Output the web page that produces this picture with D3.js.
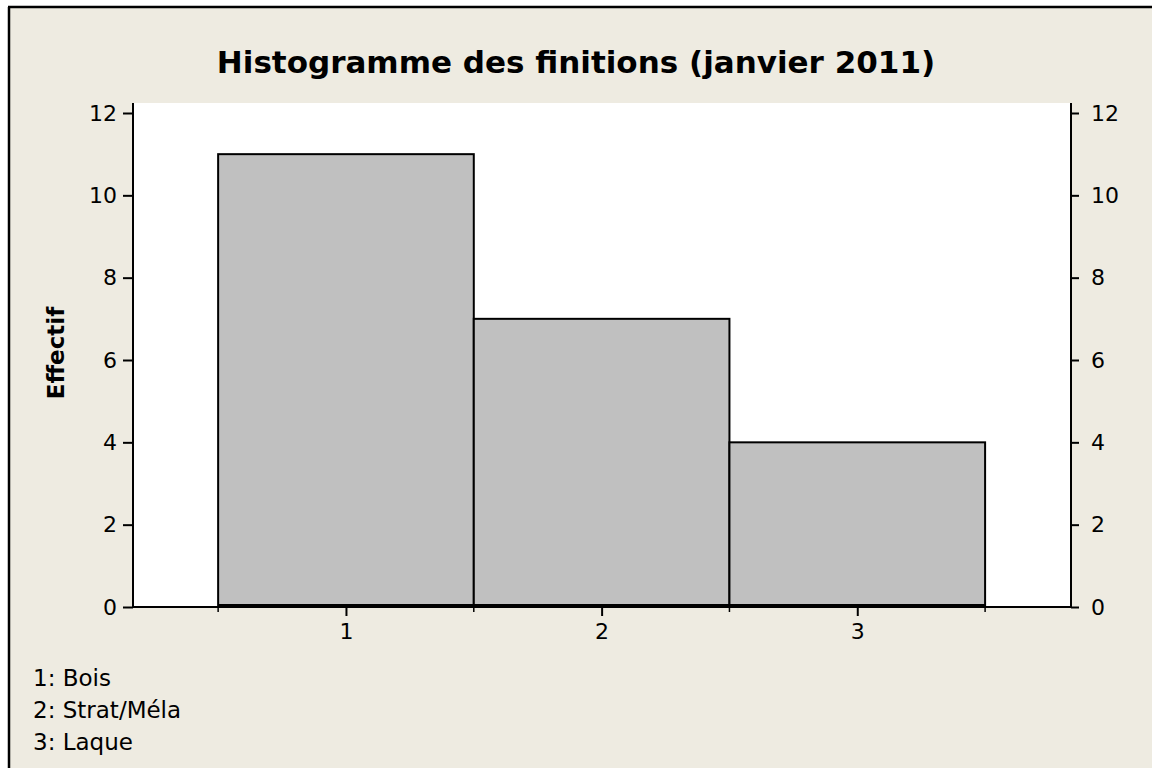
<!DOCTYPE html>
<html>
<head>
<meta charset="utf-8">
<script src="https://cdn.jsdelivr.net/npm/d3@7"></script>
<style>
  html, body { margin: 0; padding: 0; overflow: hidden; background: #fff; }
  svg { display: block; }
  svg text { font-family: "DejaVu Sans", Verdana, sans-serif; fill: #000; }
</style>
</head>
<body>
<svg id="chart" width="1152" height="768"></svg>
<script>
// données
var codes = [1, 2, 3];
var finitions = ["Bois", "Strat/Méla", "Laque"];
var effectifs = [11, 7, 4];
var yTicks = [0, 2, 4, 6, 8, 10, 12];
var titre = "Histogramme des finitions (janvier 2011)";
var yTitre = "Effectif";

var W = 1152, H = 768;
// zone du graphique
var plot = {left: 133, right: 1071, top: 103, bottom: 607};

var svg = d3.select("#chart");

// fond beige + cadre (le cadre sort de l'image à droite et en bas)
svg.append("rect")
    .attr("width", W).attr("height", H)
    .attr("fill", "#eeebe1");
svg.append("rect")
    .attr("width", W).attr("height", 6)
    .attr("fill", "#fff");
svg.append("rect")
    .attr("width", 8).attr("height", H)
    .attr("fill", "#fff");
svg.append("line")
    .attr("x1", 9).attr("x2", 9).attr("y1", 7).attr("y2", H)
    .attr("stroke", "#000").attr("stroke-width", 2.5);
svg.append("line")
    .attr("x1", 8).attr("x2", W).attr("y1", 7).attr("y2", 7)
    .attr("stroke", "#000").attr("stroke-width", 2.5);

// échelles
var x = d3.scaleLinear()
    .domain([0.5 - 0.333, 3.5 + 0.336])
    .range([plot.left, plot.right]);
var y = d3.scaleLinear()
    .domain([0, 12])
    .range([plot.bottom, 113]);

// zone blanche
svg.append("rect")
    .attr("x", plot.left).attr("y", plot.top)
    .attr("width", plot.right - plot.left)
    .attr("height", plot.bottom - plot.top)
    .attr("fill", "#fff");

// barres
svg.selectAll("rect.bar")
    .data(effectifs)
  .enter().append("rect")
    .attr("class", "bar")
    .attr("x", function(d, i) { return x(codes[i] - 0.5); })
    .attr("y", function(d) { return y(d); })
    .attr("width", function(d, i) { return x(codes[i] + 0.5) - x(codes[i] - 0.5); })
    .attr("height", function(d) { return y(0) - 2 - y(d); })
    .attr("fill", "#c0c0c0")
    .attr("stroke", "#000")
    .attr("stroke-width", 2);

// axe gauche
var yAxisL = svg.append("g")
    .attr("transform", "translate(" + plot.left + ",0)")
    .call(d3.axisLeft(y).tickValues(yTicks).tickSize(10).tickPadding(6));
// axe droit
var yAxisR = svg.append("g")
    .attr("transform", "translate(" + plot.right + ",0)")
    .call(d3.axisRight(y).tickValues(yTicks).tickSize(8).tickPadding(12));

[yAxisL, yAxisR].forEach(function(a) {
    a.select(".domain").remove();
    a.selectAll(".tick line").attr("stroke", "#000").attr("stroke-width", 2);
    a.selectAll(".tick text")
        .attr("font-size", 22)
        .attr("font-family", "DejaVu Sans")
        .attr("fill", "#000");
});

// lignes verticales des axes
svg.append("line")
    .attr("x1", plot.left).attr("x2", plot.left)
    .attr("y1", plot.top).attr("y2", plot.bottom)
    .attr("stroke", "#000").attr("stroke-width", 2);
svg.append("line")
    .attr("x1", plot.right).attr("x2", plot.right)
    .attr("y1", plot.top).attr("y2", plot.bottom)
    .attr("stroke", "#000").attr("stroke-width", 2);

// axe x
var xAxis = svg.append("g")
    .attr("transform", "translate(0," + plot.bottom + ")")
    .call(d3.axisBottom(x).tickValues(codes).tickSize(9).tickPadding(7).tickFormat(d3.format("d")));
xAxis.select(".domain").remove();
xAxis.selectAll(".tick line").attr("stroke", "#000").attr("stroke-width", 2);
xAxis.selectAll(".tick text")
    .attr("font-size", 22)
    .attr("font-family", "DejaVu Sans")
    .attr("fill", "#000");

// petits traits aux bords des classes
svg.selectAll("line.minor")
    .data(codes.map(function(c) { return c - 0.5; }).concat([codes[codes.length - 1] + 0.5]))
  .enter().append("line")
    .attr("class", "minor")
    .attr("x1", function(d) { return x(d); })
    .attr("x2", function(d) { return x(d); })
    .attr("y1", plot.bottom)
    .attr("y2", plot.bottom + 5)
    .attr("stroke", "#000").attr("stroke-width", 1.5);

svg.append("line")
    .attr("x1", plot.left).attr("x2", plot.right)
    .attr("y1", plot.bottom).attr("y2", plot.bottom)
    .attr("stroke", "#000").attr("stroke-width", 2);

// titre
svg.append("text")
    .attr("x", 576).attr("y", 73)
    .attr("text-anchor", "middle")
    .attr("font-size", 31)
    .attr("font-weight", "bold")
    .text(titre);

// titre axe y
svg.append("text")
    .attr("transform", "translate(64,353) rotate(-90)")
    .attr("text-anchor", "middle")
    .attr("font-size", 23)
    .attr("font-weight", "bold")
    .text(yTitre);

// légende des codes
svg.selectAll("text.legende")
    .data(finitions)
  .enter().append("text")
    .attr("class", "legende")
    .attr("x", 33)
    .attr("y", function(d, i) { return 686 + i * 32; })
    .attr("font-size", 23)
    .text(function(d, i) { return codes[i] + ": " + d; });
</script>
</body>
</html>
